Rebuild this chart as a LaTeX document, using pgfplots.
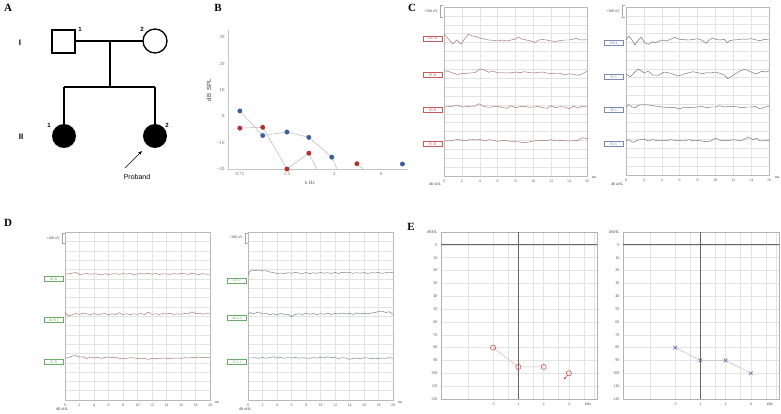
\documentclass[border=0pt]{standalone}
\usepackage{fontspec}
\setmainfont{Liberation Serif}
\newfontfamily\arial{Liberation Sans}
\usepackage{pgfplots}
\usepackage{pgfplotstable}
\pgfplotsset{compat=1.18}
\usetikzlibrary{arrows.meta}
\definecolor{bblue}{HTML}{3F5E9E}
\definecolor{bred}{HTML}{B52E2E}
\definecolor{trR}{HTML}{9C6E6E}
\definecolor{trL}{HTML}{6E6E78}
\definecolor{trDR}{HTML}{A07068}
\definecolor{trDL}{HTML}{707888}
\definecolor{boxR}{HTML}{C85A5A}
\definecolor{boxL}{HTML}{7A8AB0}
\definecolor{boxG}{HTML}{6AAA6A}
\definecolor{ered}{HTML}{D03A3A}
\definecolor{eblue}{HTML}{4A5AA8}
\pgfplotsset{
  abr/.style={scale only axis, anchor=south west, grid=major,
    major grid style={draw=gray!22, line width=0.35pt},
    axis line style={draw=gray!55, line width=0.5pt},
    tick style={draw=none}, yticklabel=\empty, ymin=0, xmin=0,
    ticklabel style={font=\fontsize{3.9}{3.9}\selectfont, text=black!70},
    /pgf/number format/assume math mode=true},
}
\tikzset{
  lbl/.style={draw=#1, text=#1, font=\fontsize{3.9}{3.9}\selectfont,
    minimum width=19pt, minimum height=5pt, inner sep=0.3pt,
    line width=0.4pt, fill=white},
  tlab/.style={font=\fontsize{3.8}{3.8}\selectfont, text=black!75, inner sep=0pt},
}
\pgfplotstableread{
freq dbR dbL
0.5 80 80
1 95 90
2 95 90
4 100 100
}\audio
\begin{document}
\begin{tikzpicture}[x=1pt,y=1pt]
\useasboundingbox[fill=white] (0,0) rectangle (781,413);

% ---------------- Panel letters
\foreach \L/\px/\py in {A/8/8, B/218/8, C/412/8, D/8/223, E/411/227}
  \node[font=\bfseries\fontsize{11}{11}\selectfont] at (\px,{413-\py}) {\L};

% ---------------- Panel A: pedigree
\begin{scope}[line width=1.3pt]
\draw (52,{413-30}) rectangle (75,{413-53});
\draw (155,{413-41}) circle (12);
\draw (75,{413-41}) -- (143,{413-41});
\draw (110,{413-41}) -- (110,{413-87});
\draw (64,{413-87}) -- (155,{413-87});
\draw (64,{413-87}) -- (64,{413-124});
\draw (155,{413-87}) -- (155,{413-124});
\fill (64,{413-136}) circle (12);
\fill (155,{413-136}) circle (12);
\end{scope}
\draw[-{Stealth[length=4pt,width=3pt]}, line width=0.6pt] (125,{413-168}) -- (142,{413-151});
\node[font=\arial\fontsize{7}{7}\selectfont] at (137,{413-177}) {Proband};
\node[font=\arial\bfseries\fontsize{8}{8}\selectfont] at (20,{413-43}) {I};
\node[font=\arial\bfseries\fontsize{8}{8}\selectfont] at (21,{413-137}) {II};
\foreach \n/\px/\py in {1/80/29, 2/142/29, 1/49/125, 2/167/125}
  \node[font=\arial\bfseries\fontsize{6}{6}\selectfont] at (\px,{413-\py}) {\n};

% ---------------- Panel B: DPOAE
\begin{axis}[scale only axis, at={(228pt,244pt)}, anchor=south west,
  width=180pt, height=139pt, xmode=log, xmin=0.63, xmax=8.9,
  ymin=-20, ymax=32.7, axis x line*=bottom, axis y line*=left,
  axis line style={draw=gray!45, line width=0.5pt},
  xtick={0.75,1.5,3,6}, xticklabels={0.75,1.5,3,6},
  ytick={-20,-10,0,10,20,30}, yticklabels={−20,−10,0,10,20,30},
  tick style={draw=none}, minor tick num=0,
  ticklabel style={font=\fontsize{4.8}{4.8}\selectfont, text=black!60},
  clip mode=individual]
\addplot[gray!55, line width=0.5pt] coordinates {(0.75,2)(1.05,-7.3)(1.5,-6)(2.07,-8)(2.9,-15.5)(3.13,-20)};
\addplot[gray!55, line width=0.5pt] coordinates {(0.75,-4.5)(1.05,-4.2)(1.5,-20)(2.07,-14)(2.33,-20)};
\addplot[gray!55, line width=0.5pt] coordinates {(4.2,-18)(4.6,-20)};
\addplot[only marks, mark=*, mark size=2.2pt, color=bblue] coordinates {(0.75,2)(1.05,-7.3)(1.5,-6)(2.07,-8)(2.9,-15.5)(8.2,-18.1)};
\addplot[only marks, mark=*, mark size=2.2pt, color=bred] coordinates {(0.75,-4.5)(1.05,-4.2)(1.5,-20)(2.07,-14)(4.2,-18)};
\end{axis}
\node[font=\fontsize{5}{5}\selectfont, text=black!70] at (310,{413-183}) {k Hz};
\node[font=\arial\fontsize{6}{6}\selectfont, text=black!80, rotate=90] at (209,{413-90}) {dB\ \ SPL};

% ---------------- Panel C left (R)
\begin{axis}[abr, at={(444pt,237pt)}, width=143pt, height=169pt,
  xmax=16, ymax=169, xtick={0,2,...,16}, ytick={0,8.9,...,169}]
\addplot[trR, line width=0.45pt] table[row sep=\\, y expr=\thisrowno{1}+136] {0 5.7\\ 0.5 1\\ 1.0 -4\\ 1.4 0\\ 1.9 -4\\ 2.3 1\\ 2.7 5.7\\ 3.2 4\\ 3.6 3.3\\ 4 2\\ 4.5 1\\ 5 0\\ 5.5 -0.3\\ 6 -1\\ 6.5 0\\ 7 -1\\ 7.5 0\\ 8 1\\ 8.3 3\\ 8.7 1\\ 9.2 0\\ 9.7 -1\\ 10.2 -2.5\\ 10.6 0\\ 11 0.5\\ 11.5 0\\ 12 -1\\ 12.5 -1.5\\ 13 -0.5\\ 13.5 0\\ 14 0\\ 14.5 1\\ 14.8 2\\ 15.2 0\\ 16 0.3\\};
\addplot[trR, line width=0.45pt] table[row sep=\\, y expr=\thisrowno{1}+103] {0 2.3\\ 0.5 1.5\\ 1 0\\ 1.5 -1.5\\ 2 -0.5\\ 2.5 -0.3\\ 3 0\\ 3.5 0.5\\ 4 4\\ 4.5 3\\ 5 0.7\\ 5.5 2\\ 6 0\\ 6.5 0.3\\ 7 0\\ 7.5 0.2\\ 8 1\\ 8.5 0.3\\ 9 1.3\\ 9.5 0.5\\ 10 0\\ 10.5 0.6\\ 11 1\\ 11.5 0\\ 12 -0.7\\ 12.5 -0.2\\ 13 -0.3\\ 13.5 -2\\ 14 -0.8\\ 14.5 -1.3\\ 15 -2.3\\ 15.5 -0.7\\ 16 1.7\\};
\addplot[trR, line width=0.45pt] table[row sep=\\, y expr=\thisrowno{1}+69] {0 0\\ 0.5 0.3\\ 1 0.8\\ 1.5 2\\ 2 0\\ 2.5 0.3\\ 3 0.7\\ 3.5 1\\ 3.9 3.3\\ 4.4 0.7\\ 5 -0.3\\ 5.5 0.3\\ 6 0.7\\ 6.5 -0.5\\ 7 -1.3\\ 7.5 1.3\\ 8 -0.7\\ 8.5 0.3\\ 9 0.7\\ 9.5 -0.3\\ 10 0\\ 10.5 0.5\\ 11 -0.5\\ 11.5 -1.3\\ 12 1.3\\ 12.5 -0.7\\ 13 0.3\\ 13.5 0\\ 14 -1.7\\ 14.5 0.7\\ 15 -1\\ 15.5 0.7\\ 16 0\\};
\addplot[trR, line width=0.45pt] table[row sep=\\, y expr=\thisrowno{1}+35] {0 0\\ 0.5 0.2\\ 1 0.5\\ 1.5 1.7\\ 2 0.7\\ 2.5 0.3\\ 3 2\\ 3.5 1\\ 4 1.7\\ 4.5 0\\ 5 1.3\\ 5.5 0.7\\ 6 -0.3\\ 6.5 0.3\\ 7 0.3\\ 7.5 -0.3\\ 8 -0.7\\ 8.5 -1\\ 9 -1.7\\ 9.5 -1\\ 10 0\\ 10.5 0.3\\ 11 0.7\\ 11.5 0.3\\ 12 1.3\\ 12.5 0\\ 13 0.7\\ 13.5 0.2\\ 14 0\\ 14.5 0.3\\ 15 0.7\\ 15.5 3.3\\ 16 2.3\\};
\end{axis}
\node[lbl=boxR] at (432.5,{413-38.5}) {100 R};
\node[lbl=boxR] at (432.5,{413-75}) {95 R};
\node[lbl=boxR] at (432.5,{413-110}) {90 R};
\node[lbl=boxR] at (432.5,{413-144}) {85 R};
\node[tlab] at (594,{413-178}) {ms};
\node[tlab] at (435,{413-184}) {dB nHL};
\node[tlab, anchor=east] at (438,{413-11}) {+500 nV};
\draw[gray!70, line width=0.4pt] (443,{413-5}) -- (440,{413-5}) -- (440,{413-17}) -- (443,{413-17});

% ---------------- Panel C right (L)
\begin{axis}[abr, at={(626pt,238pt)}, width=143pt, height=168pt,
  xmax=16, ymax=168, xtick={0,2,...,16}, ytick={0,8.85,...,168}]
\addplot[trL, line width=0.45pt] table[row sep=\\, y expr=\thisrowno{1}+135] {0 0\\ 0.3 4\\ 0.6 1\\ 0.8 -1.7\\ 1 -5\\ 1.2 -2\\ 1.4 0\\ 1.7 2.7\\ 2.1 -2.7\\ 2.5 -4.3\\ 2.8 -2.5\\ 3 -1.7\\ 3.3 -2.7\\ 3.7 -1\\ 4 0\\ 4.5 -1\\ 5 0.7\\ 5.4 2.7\\ 6 0.7\\ 6.5 0.3\\ 7 0\\ 7.5 0.5\\ 8 1.3\\ 8.4 0\\ 8.7 -1.5\\ 9 -3.3\\ 9.3 0\\ 9.7 2\\ 10 0.7\\ 10.5 0\\ 11 0.7\\ 11.3 -2.7\\ 11.6 -0.7\\ 12 0\\ 12.5 0.3\\ 13 1\\ 13.5 0.7\\ 14 1.3\\ 14.6 0\\ 15 -0.7\\ 15.5 0.7\\ 16 0\\};
\addplot[trL, line width=0.45pt] table[row sep=\\, y expr=\thisrowno{1}+101] {0 0\\ 0.5 -2.7\\ 1 2.3\\ 1.4 4.7\\ 2 1.3\\ 2.5 2.7\\ 3 -1\\ 3.6 -1.3\\ 4.3 2\\ 5 0.7\\ 5.8 -2\\ 6.2 -1\\ 6.5 0\\ 7 1.2\\ 7.5 2.3\\ 8 1.3\\ 8.6 0.3\\ 9 1.3\\ 9.5 1\\ 10 2\\ 10.5 0.7\\ 11 -1\\ 11.4 -4.7\\ 12 -1\\ 12.5 1.5\\ 12.8 3.3\\ 13.3 4.7\\ 14 2\\ 14.5 0\\ 15.2 2.7\\ 15.6 2\\ 16 3.3\\};
\addplot[trL, line width=0.45pt] table[row sep=\\, y expr=\thisrowno{1}+68] {0 0\\ 0.3 2.3\\ 0.7 0\\ 1 -0.7\\ 1.4 1.7\\ 2 2.3\\ 2.5 2\\ 3 1.3\\ 3.5 0.7\\ 4 0\\ 4.5 -0.3\\ 5 -0.7\\ 5.5 -0.5\\ 6 -2\\ 6.5 0\\ 7 -0.7\\ 7.5 -0.3\\ 8 0\\ 8.5 0.5\\ 9 -0.7\\ 9.5 0\\ 10 0\\ 10.5 1.3\\ 11 0\\ 11.5 0.5\\ 12 0.7\\ 12.5 0\\ 13 -0.7\\ 13.5 0\\ 14 0\\ 14.5 0.5\\ 15 -2\\ 15.5 0\\ 16 0.7\\};
\addplot[trL, line width=0.45pt] table[row sep=\\, y expr=\thisrowno{1}+34] {0 0\\ 0.3 1.3\\ 0.8 -1.3\\ 1.3 0.7\\ 2 2\\ 2.5 0\\ 3 1.3\\ 3.5 0.3\\ 4 0.7\\ 4.5 0.3\\ 5 1.3\\ 5.5 0.5\\ 6 0.7\\ 6.5 0\\ 7 1.3\\ 7.5 0.3\\ 8 0.7\\ 8.5 0\\ 9 -0.7\\ 9.5 0\\ 10 2.7\\ 10.5 0.7\\ 11 0.7\\ 11.5 0.3\\ 12 1.3\\ 12.5 0.5\\ 13 0.7\\ 13.7 4\\ 14.2 1.3\\ 14.6 2.7\\ 15 0\\ 15.5 0.5\\ 16 0.7\\};
\end{axis}
\node[lbl=boxL] at (614,{413-43}) {100 L};
\node[lbl=boxL] at (614,{413-77}) {95 L};
\node[lbl=boxL] at (614,{413-110}) {90 L};
\node[lbl=boxL] at (614,{413-144}) {85 L};
\node[tlab] at (777,{413-178}) {ms};
\node[tlab] at (617,{413-184}) {dB nHL};
\node[tlab, anchor=east] at (620,{413-11}) {+500 nV};
\draw[gray!70, line width=0.4pt] (625,{413-5}) -- (622,{413-5}) -- (622,{413-17}) -- (625,{413-17});

% ---------------- Panel D left (R)
\begin{axis}[abr, at={(65pt,13pt)}, width=145pt, height=168pt,
  xmax=20, ymax=168, xtick={0,2,...,20}, ytick={0,9.33,...,168}]
\addplot[trDR, line width=0.45pt] table[row sep=\\, y expr=\thisrowno{1}+126] {0 0\\ 0.5 0.2\\ 1 0.8\\ 1.5 1.5\\ 2 -0.5\\ 2.5 0\\ 3 0.5\\ 3.5 -0.3\\ 4 0.2\\ 4.5 0\\ 5 -1\\ 5.5 0.3\\ 6 -0.5\\ 6.5 0\\ 7 0.3\\ 7.5 -0.3\\ 8 0.5\\ 8.5 -0.2\\ 9 0.4\\ 9.5 -0.5\\ 10 0\\ 10.5 0.5\\ 11 0\\ 11.5 0.8\\ 12 -0.3\\ 12.5 0.6\\ 13 -0.5\\ 13.5 0.3\\ 14 0\\ 14.5 -0.4\\ 15 0.4\\ 15.5 -0.2\\ 16 0.7\\ 16.5 0.2\\ 17 -0.3\\ 17.5 0.9\\ 18 0\\ 18.5 -0.5\\ 19 0.4\\ 19.5 -0.3\\ 20 0\\};
\addplot[trDR, line width=0.45pt] table[row sep=\\, y expr=\thisrowno{1}+86] {0 2\\ 0.3 -1\\ 0.6 -2\\ 1 -0.5\\ 1.5 0.5\\ 2 -0.3\\ 2.5 1\\ 3 0\\ 3.5 -0.5\\ 4 0.5\\ 4.5 -1\\ 5 0\\ 5.5 0.5\\ 6 -0.8\\ 6.5 0.3\\ 7 -0.5\\ 7.5 1.2\\ 8 -0.5\\ 8.5 0.3\\ 9 -0.6\\ 9.5 0.2\\ 10 -0.3\\ 10.5 0.5\\ 11 -0.5\\ 11.5 1.8\\ 12 -0.3\\ 12.5 0.2\\ 13 -0.5\\ 13.5 0.4\\ 14 0\\ 14.5 0.7\\ 15 -0.4\\ 15.5 0.2\\ 16 -0.3\\ 16.5 0.5\\ 17 0\\ 17.5 2.2\\ 18 0.3\\ 18.5 0.8\\ 19 -0.2\\ 19.5 0.4\\ 20 0\\};
\addplot[trDR, line width=0.45pt] table[row sep=\\, y expr=\thisrowno{1}+42] {0 0\\ 0.5 0.3\\ 1 2\\ 1.5 2.5\\ 2 0.8\\ 2.5 1.2\\ 3 -0.5\\ 3.5 1\\ 4 0\\ 4.5 0.8\\ 5 -0.4\\ 5.5 0.5\\ 6 1\\ 6.5 0.3\\ 7 0.7\\ 7.5 -0.3\\ 8 -0.8\\ 8.5 -0.3\\ 9 0.3\\ 9.5 0\\ 10 -0.5\\ 10.5 -0.2\\ 11 -0.5\\ 11.5 -1.3\\ 12 -0.5\\ 12.5 -0.3\\ 13 -0.6\\ 13.5 0\\ 14 -0.3\\ 14.5 -0.5\\ 15 -0.2\\ 15.5 0\\ 16 -0.4\\ 16.5 0.3\\ 17 0\\ 17.5 0.5\\ 18 0.2\\ 18.5 1\\ 19 0.3\\ 19.5 0.5\\ 20 0.8\\};
\end{axis}
\node[lbl=boxG] at (53.5,{413-279}) {60 R};
\node[lbl=boxG] at (53.5,{413-320}) {40 R1};
\node[lbl=boxG] at (53.5,{413-362}) {35 R};
\node[tlab] at (217,{413-403}) {ms};
\node[tlab] at (62,{413-409}) {dB nHL};
\node[tlab, anchor=east] at (60,{413-238}) {+200 nV};
\draw[gray!70, line width=0.4pt] (65,{413-233}) -- (62,{413-233}) -- (62,{413-243}) -- (65,{413-243});

% ---------------- Panel D right (L)
\begin{axis}[abr, at={(248pt,13pt)}, width=145pt, height=168pt,
  xmax=20, ymax=168, xtick={0,2,...,20}, ytick={0,9.33,...,168}]
\addplot[trDL, line width=0.45pt] table[row sep=\\, y expr=\thisrowno{1}+127] {0 -2\\ 0.2 1\\ 0.5 3\\ 1 2.3\\ 1.5 3\\ 2 2\\ 2.5 2.3\\ 3 1\\ 3.5 0.5\\ 4 -0.5\\ 4.5 0\\ 5 -0.7\\ 5.5 0.3\\ 6 -0.3\\ 6.5 0.7\\ 7 0\\ 7.5 -0.5\\ 8 0.5\\ 8.5 -0.6\\ 9 0.2\\ 9.5 -0.3\\ 10 0.5\\ 10.5 -0.2\\ 11 0.3\\ 11.5 -0.5\\ 12 0.6\\ 12.5 -0.4\\ 13 0.8\\ 13.5 0.2\\ 14 0.5\\ 14.5 -0.3\\ 15 0.3\\ 15.5 -0.2\\ 16 0.4\\ 16.5 -0.5\\ 17 0.3\\ 17.5 0\\ 18 0.5\\ 18.5 -0.3\\ 19 0.2\\ 19.5 0.8\\ 20 0.5\\};
\addplot[trDL, line width=0.45pt] table[row sep=\\, y expr=\thisrowno{1}+86] {0 0\\ 0.3 1.5\\ 0.6 0\\ 1 1\\ 1.5 2\\ 2 0\\ 2.5 0.5\\ 3 -0.7\\ 3.5 0.3\\ 4 -0.8\\ 4.5 0.5\\ 5 -0.5\\ 5.5 -0.3\\ 6 -2.5\\ 6.5 -0.5\\ 7 0.3\\ 7.5 -0.5\\ 8 0.7\\ 8.5 -0.3\\ 9 0.5\\ 9.5 -0.6\\ 10 0.3\\ 10.5 -0.2\\ 11 0.8\\ 11.5 -0.4\\ 12 0.7\\ 12.5 0\\ 13 1\\ 13.5 0\\ 14 0.7\\ 14.5 -0.5\\ 15 1.2\\ 15.5 0\\ 16 0.8\\ 16.5 0.2\\ 17 1\\ 17.5 1.5\\ 18 2.3\\ 18.5 3\\ 19 1.5\\ 19.5 2.3\\ 20 -0.5\\};
\addplot[trDL, line width=0.45pt] table[row sep=\\, y expr=\thisrowno{1}+42] {0 0\\ 0.5 0\\ 1 0.3\\ 1.5 -0.3\\ 2 0.5\\ 2.5 -0.2\\ 3 0.4\\ 3.5 1.2\\ 4 0\\ 4.5 0.5\\ 5 -0.3\\ 5.5 0.3\\ 6 0\\ 6.5 0.5\\ 7 -0.2\\ 7.5 0.3\\ 8 0\\ 8.5 -0.3\\ 9 0.4\\ 9.5 -0.2\\ 10 0.6\\ 10.5 0\\ 11 1.2\\ 11.5 0.3\\ 12 0.5\\ 12.5 -0.5\\ 13 0.3\\ 13.5 0\\ 14 -1.3\\ 14.5 -0.5\\ 15 0\\ 15.5 -0.8\\ 16 0.3\\ 16.5 0\\ 17 -0.5\\ 17.5 -0.2\\ 18 -0.5\\ 18.5 0\\ 19 -0.3\\ 19.5 0.3\\ 20 -0.3\\};
\end{axis}
\node[lbl=boxG] at (237,{413-280.5}) {45 L};
\node[lbl=boxG] at (237,{413-318}) {40 L2};
\node[lbl=boxG] at (237,{413-362}) {35 L1};
\node[tlab] at (400,{413-403}) {ms};
\node[tlab] at (245,{413-409}) {dB nHL};
\node[tlab, anchor=east] at (243,{413-237}) {+200 nV};
\draw[gray!70, line width=0.4pt] (248,{413-233}) -- (245,{413-233}) -- (245,{413-243}) -- (248,{413-243});

% ---------------- Panel E left (right ear)
\begin{axis}[scale only axis, anchor=south west, at={(441pt,14pt)},
  width=156pt, height=167pt,
  xmode=log, xmin=0.12, xmax=8.64, ymin=-10, ymax=120, y dir=reverse,
  ytick={-10,0,10,20,30,40,50,60,70,80,90,100,110,120},
  yticklabels={dBHL,0,10,20,30,40,50,60,70,80,90,100,110,120},
  xtick={0.25,0.5,0.75,1,1.5,2,3,4,6,8},
  xticklabels={,.5,,1,,2,,4,,},
  grid=major, major grid style={draw=gray!22, line width=0.4pt},
  axis line style={draw=gray!60, line width=0.7pt},
  tick style={draw=none}, minor tick num=0,
  ticklabel style={font=\fontsize{4.2}{4.2}\selectfont, text=black!65},
  clip mode=individual]
\addplot[black!60, line width=1pt] coordinates {(0.12,0)(8.64,0)};
\addplot[black!60, line width=1pt] coordinates {(1,-10)(1,120)};
\addplot[gray!50, line width=0.5pt] coordinates {(0.5,80)(1,95)(2,95)};
\addplot[only marks, mark=o, mark size=2.6pt, color=ered, mark options={line width=0.5pt}] table[x=freq, y=dbR] {\audio};
\addplot[ered, line width=0.5pt, -{Stealth[length=2.2pt,width=2pt]}] coordinates {(3.86,101.5)(3.48,104.5)};
\end{axis}
\node[tlab] at (588,{413-404}) {kHz};

% ---------------- Panel E right (left ear)
\begin{axis}[scale only axis, anchor=south west, at={(623pt,14pt)},
  width=156pt, height=167pt,
  xmode=log, xmin=0.12, xmax=8.64, ymin=-10, ymax=120, y dir=reverse,
  ytick={-10,0,10,20,30,40,50,60,70,80,90,100,110,120},
  yticklabels={dBHL,0,10,20,30,40,50,60,70,80,90,100,110,120},
  xtick={0.25,0.5,0.75,1,1.5,2,3,4,6,8},
  xticklabels={,.5,,1,,2,,4,,},
  grid=major, major grid style={draw=gray!22, line width=0.4pt},
  axis line style={draw=gray!60, line width=0.7pt},
  tick style={draw=none}, minor tick num=0,
  ticklabel style={font=\fontsize{4.2}{4.2}\selectfont, text=black!65},
  clip mode=individual]
\addplot[black!60, line width=1pt] coordinates {(0.12,0)(8.64,0)};
\addplot[black!60, line width=1pt] coordinates {(1,-10)(1,120)};
\addplot[gray!50, line width=0.5pt] table[x=freq, y=dbL] {\audio};
\addplot[only marks, mark=x, mark size=2.6pt, color=eblue, mark options={line width=0.5pt}] table[x=freq, y=dbL] {\audio};
\end{axis}
\node[tlab] at (770,{413-404}) {kHz};
\end{tikzpicture}
\end{document}
